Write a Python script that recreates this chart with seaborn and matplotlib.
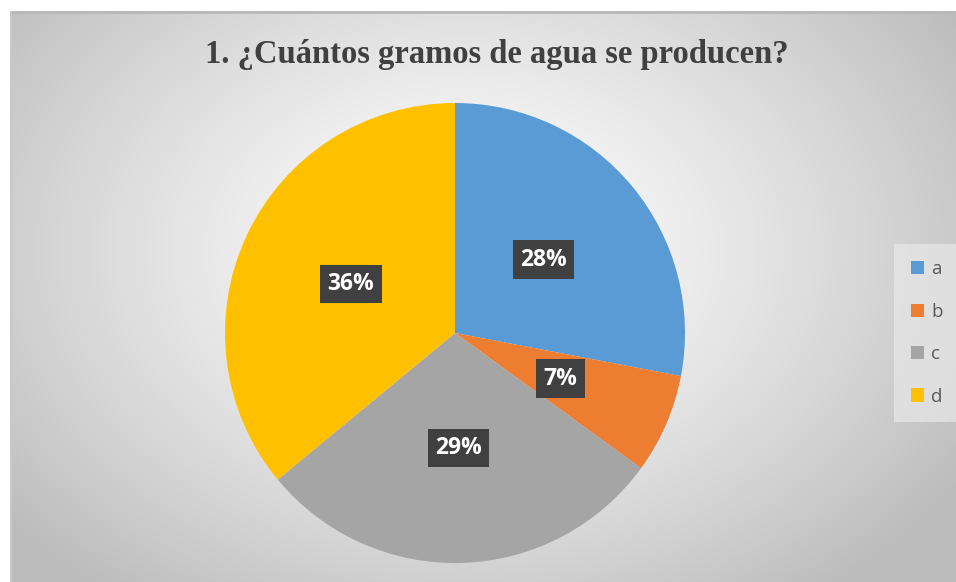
import numpy as np
import matplotlib
matplotlib.use("Agg")
import matplotlib.pyplot as plt
import seaborn as sns

categories = ["a", "b", "c", "d"]
values = [28, 7, 29, 36]
colors = ["#5B9BD5", "#ED7D31", "#A5A5A5", "#FFC000"]
title = "1. ¿Cuántos gramos de agua se producen?"

sns.set_theme(style="white")
plt.rcParams["font.family"] = ["DejaVu Sans"]

W, H = 956, 582
fig = plt.figure(figsize=(W / 100, H / 100), dpi=100)
fig.patch.set_facecolor("white")

# background with radial gradient
x0, y0 = 10, 11
bg = fig.add_axes([x0 / W, 0, (W - x0) / W, (H - y0) / H])
bw, bh = W - x0, H - y0
yy, xx = np.mgrid[0:bh, 0:bw]
cx, cy = bw * 0.48, bh * 0.42
d = np.sqrt(((xx - cx) / (bw * 0.62)) ** 2 + ((yy - cy) / (bh * 0.75)) ** 2)
d = np.clip(d, 0, 1)
val = 1.0 - 0.26 * d ** 1.3
img = np.dstack([val, val, val])
bg.imshow(img, aspect="auto", extent=[0, bw, bh, 0])
bg.set_xlim(0, bw)
bg.set_ylim(bh, 0)
bg.axis("off")
bg.plot([0, bw], [0.5, 0.5], color="#b8b8b8", lw=2)
bg.plot([0.5, 0.5], [0, bh], color="#c8c8c8", lw=1.5)

# pie
r = 230
pcx, pcy = 455, 333
ax = fig.add_axes([(pcx - r) / W, (H - pcy - r) / H, 2 * r / W, 2 * r / H])
wedges, texts, autotexts = ax.pie(
    values, colors=colors, startangle=90, counterclock=False,
    autopct=lambda p: f"{p:.0f}%", pctdistance=0.5, radius=1.0,
    wedgeprops=dict(linewidth=0),
    textprops=dict(color="white", fontsize=16.5, fontweight="bold", family="Open Sans"),
)
for t in autotexts:
    t.set_bbox(dict(boxstyle="square,pad=0.32", facecolor="#404040", edgecolor="none"))
ax.set_xlim(-1, 1)
ax.set_ylim(-1, 1)
ax.set_aspect("equal")
ax.axis("off")

fig.text(x=(x0 + bw / 2 + 14) / W, y=1 - 54 / H, s=title, ha="center", va="center",
         family="Liberation Serif", fontweight="bold", fontsize=23.5, color="#404040")

leg = fig.legend(wedges, categories, loc="center left",
                 bbox_to_anchor=(900 / W, 1 - 333 / H), frameon=True,
                 handlelength=0.7, handleheight=0.7, handletextpad=0.35,
                 labelspacing=1.3, prop=dict(family="Open Sans", size=13.5),
                 borderpad=0.6, borderaxespad=0)
leg.get_frame().set_facecolor("#e8e8e8")
leg.get_frame().set_edgecolor("none")
leg.get_frame().set_alpha(0.7)
leg.get_frame().set_boxstyle("square")
for t in leg.get_texts():
    t.set_color("#595959")

fig.savefig("out.png", dpi=100)
